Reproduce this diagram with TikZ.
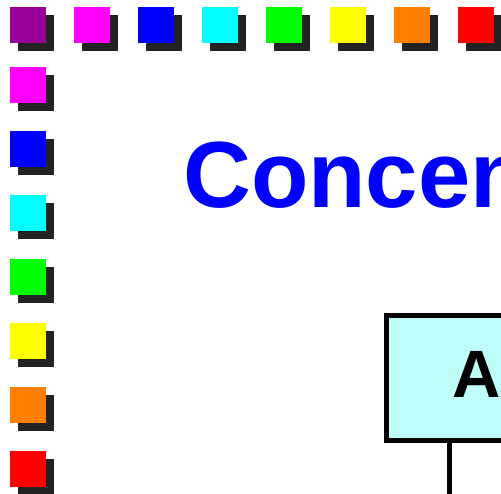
\documentclass[tikz,border=0pt]{standalone}
\usepackage{fontspec}
\setmainfont{Liberation Sans}
\definecolor{sqpurple}{RGB}{153,0,153}
\definecolor{sqmagenta}{RGB}{255,0,255}
\definecolor{sqblue}{RGB}{0,0,255}
\definecolor{sqcyan}{RGB}{0,255,255}
\definecolor{sqgreen}{RGB}{0,255,0}
\definecolor{sqyellow}{RGB}{255,255,0}
\definecolor{sqorange}{RGB}{255,128,0}
\definecolor{sqred}{RGB}{255,0,0}
\definecolor{shade}{RGB}{34,34,34}
\definecolor{boxfill}{RGB}{192,255,249}
\definecolor{titleblue}{RGB}{0,0,255}
\tikzset{
  tile/.style={draw=none, inner sep=0pt, minimum size=36pt, fill=#1},
  tileshadow/.style={draw=none, inner sep=0pt, minimum size=36pt, fill=shade},
  blockbox/.style={draw=black, line width=5pt, fill=boxfill, inner sep=0pt,
    minimum width=182pt, minimum height=124.5pt},
  link/.style={draw=black, line width=5pt},
}
\begin{document}
\begin{tikzpicture}[x=1pt, y=-1pt]
  \useasboundingbox (0,0) rectangle (501,494);
  % top row of tiles
  \foreach \c [count=\i from 0] in {sqpurple,sqmagenta,sqblue,sqcyan,sqgreen,sqyellow,sqorange,sqred} {
    \node[tileshadow] (ts\i) at ({28+64*\i+8}, {25+8}) {};
    \node[tile=\c] (t\i) at ({28+64*\i}, 25) {};
  }
  % left column of tiles
  \foreach \c [count=\j from 0] in {sqmagenta,sqblue,sqcyan,sqgreen,sqyellow,sqorange,sqred} {
    \node[tileshadow] (ls\j) at (36, {85+64*\j+8}) {};
    \node[tile=\c] (l\j) at (28, {85+64*\j}) {};
  }
  % title
  \node[anchor=base west, inner sep=0pt, text=titleblue,
        font=\fontsize{94}{94}\selectfont\bfseries] (title) at (183,208) {Concen};
  % block A and its links below
  \node[blockbox] (boxA) at (477,378.25) {};
  \node[anchor=base, inner sep=0pt, font=\fontsize{67}{67}\selectfont\bfseries] (labelA) at (477,398) {A};
  \coordinate (d1) at (449.5,500);
  \coordinate (d2) at (503.5,500);
  \draw[link] (boxA.south -| d1) -- (d1);
  \draw[link] (boxA.south -| d2) -- (d2);
\end{tikzpicture}
\end{document}
